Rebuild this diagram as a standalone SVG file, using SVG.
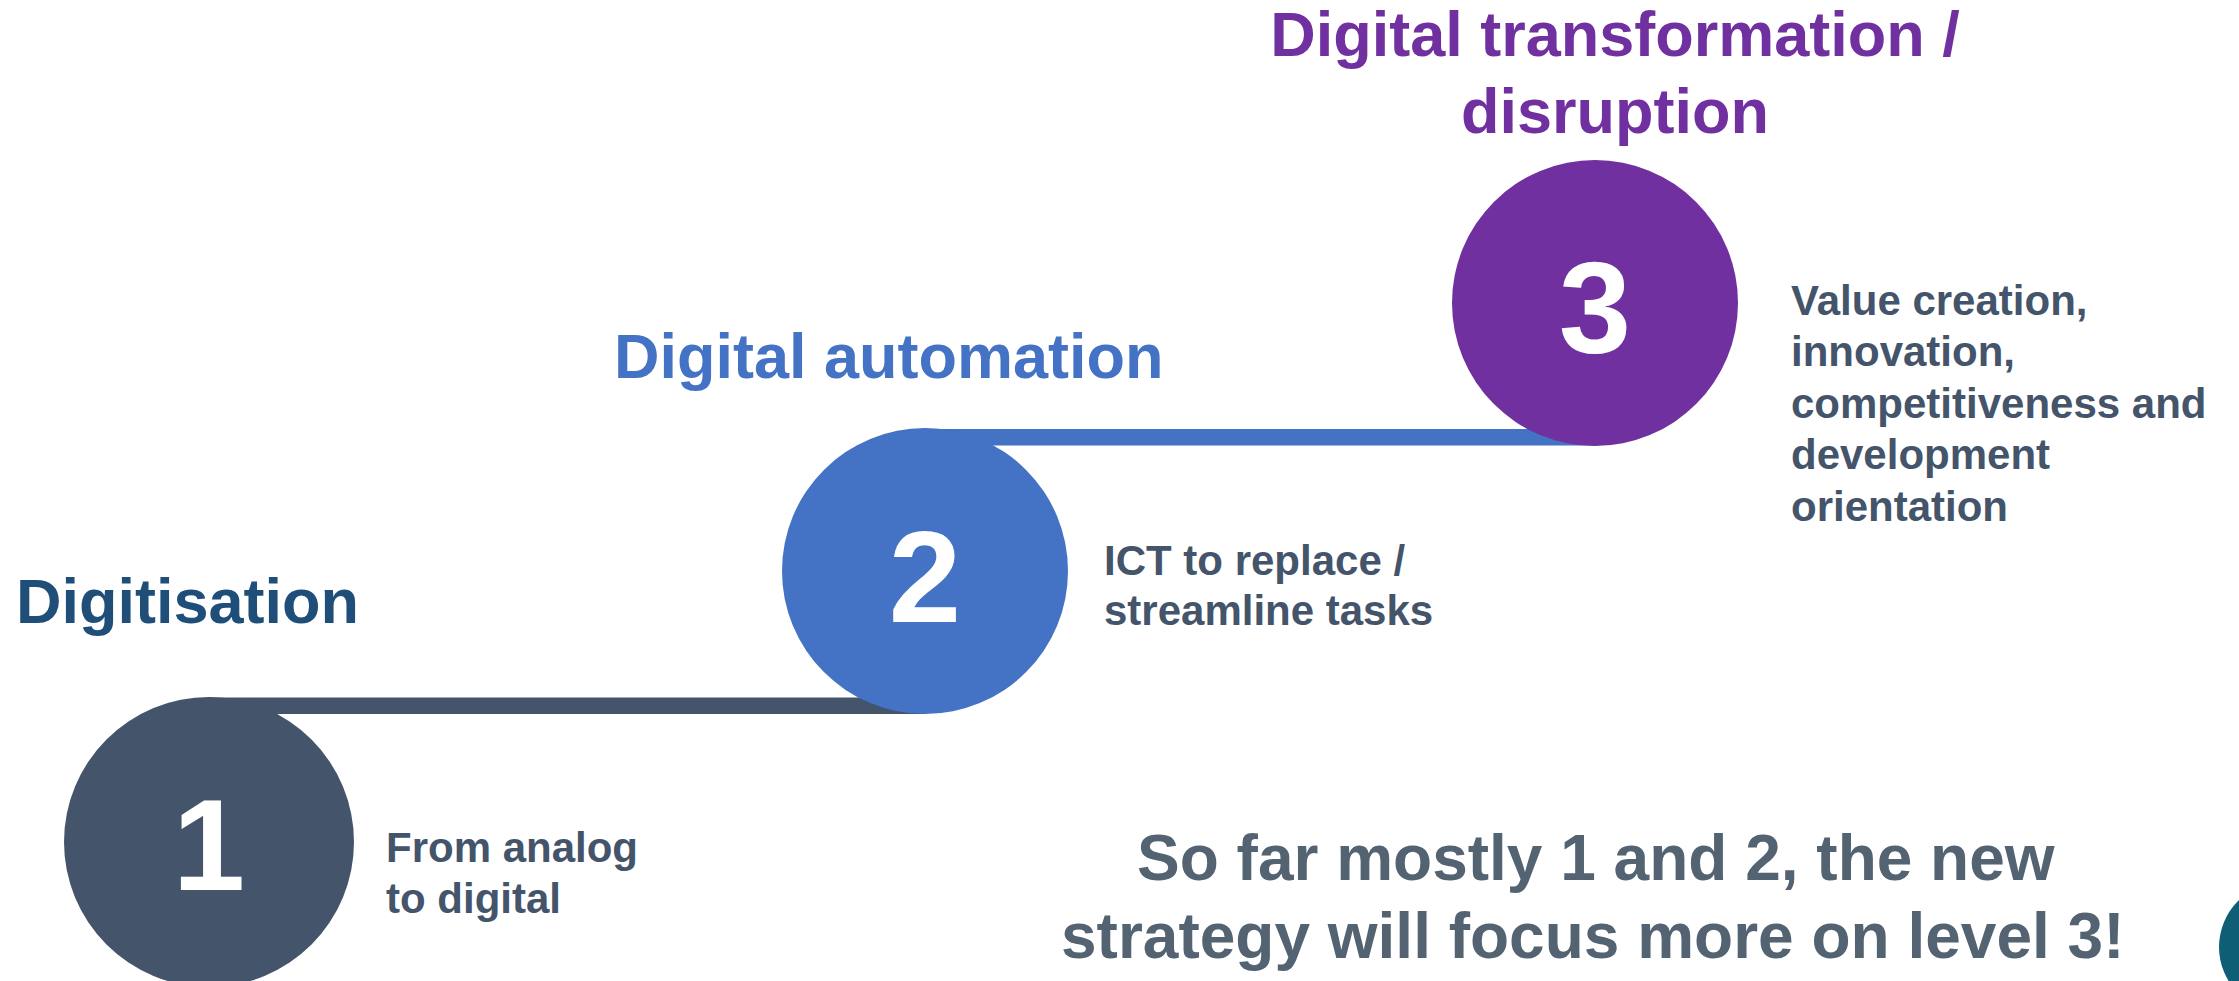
<svg xmlns="http://www.w3.org/2000/svg" width="2239" height="981" viewBox="0 0 2239 981">
<style>
text{font-family:"Liberation Sans",Arial,sans-serif;font-weight:bold}
.num{font-size:130px;fill:#FFFFFF;text-anchor:middle}
.title{font-size:63px}
.desc{font-size:42px;fill:#44546A}
.note{font-size:64px;fill:#536372}
</style>
<rect width="2239" height="981" fill="#FFFFFF"/>
<g id="connectors">
<rect x="210" y="697.5" width="715" height="16.5" fill="#44546A"/>
<rect x="925" y="429" width="670" height="16.5" fill="#4472C4"/>
</g>
<g id="node1">
<circle cx="209" cy="842" r="145" fill="#44546A"/>
<text class="num" x="209" y="890">1</text>
<text class="title" x="16" y="623" fill="#1F4E79">Digitisation</text>
<text class="desc" x="386" y="862">From analog</text>
<text class="desc" x="386" y="913">to digital</text>
</g>
<g id="node2">
<circle cx="925" cy="571" r="143" fill="#4472C4"/>
<text class="num" x="925" y="622">2</text>
<text class="title" x="614" y="378" fill="#4472C4">Digital automation</text>
<text class="desc" x="1104" y="575">ICT to replace /</text>
<text class="desc" x="1104" y="625">streamline tasks</text>
</g>
<g id="node3">
<circle cx="1595" cy="303" r="143" fill="#7030A0"/>
<text class="num" x="1595" y="353">3</text>
<text class="title" x="1615" y="56" fill="#7030A0" text-anchor="middle" font-size="64">Digital transformation /</text>
<text class="title" x="1615" y="133" fill="#7030A0" text-anchor="middle" font-size="64">disruption</text>
<text class="desc" x="1791" y="315">Value creation,</text>
<text class="desc" x="1791" y="366">innovation,</text>
<text class="desc" x="1791" y="418">competitiveness and</text>
<text class="desc" x="1791" y="469">development</text>
<text class="desc" x="1791" y="521">orientation</text>
</g>
<g id="note">
<text class="note" x="1137" y="880">So far mostly 1 and 2, the new</text>
<text class="note" x="1061" y="958">strategy will focus more on level 3!</text>
</g>
<g id="corner">
<circle cx="2284" cy="947" r="65" fill="#0E5F75"/>
</g>
</svg>
